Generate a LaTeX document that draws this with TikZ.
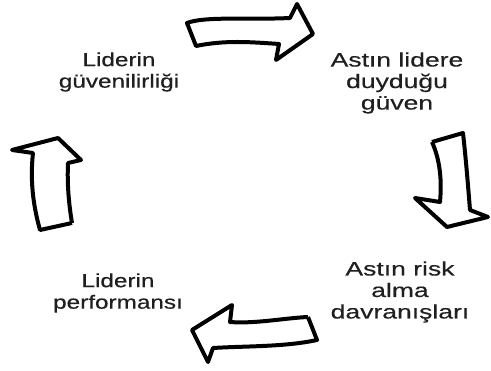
\documentclass[tikz,border=0pt]{standalone}
\usepackage{fontspec}
\setmainfont{Liberation Sans}
\newfontfamily\lblfont{Liberation Sans}[BoldFont=Liberation Sans,BoldFeatures={FakeBold=0.35}]
\begin{document}
\begin{tikzpicture}[x=1pt,y=-1pt,
  lbl/.style={align=center,text=black!88,inner sep=0pt,transform shape},
  lblL/.style={lbl,font=\lblfont\bfseries\fontsize{19}{21.5}\selectfont,xscale=1.28},
  lblR/.style={lbl,font=\lblfont\bfseries\fontsize{19.5}{21.5}\selectfont,xscale=1.36},
  blockarrow/.style={draw=black,fill=white,line width=4pt,line join=round}]
\useasboundingbox (0,0) rectangle (491,371);
% labels
\node[lblL] (trust) at (119,72) {Liderin\\güvenilirliği};
\node[lblR] (conf) at (397,83) {Astın lidere\\duyduğu\\güven};
\node[lblR] (risk) at (400,292) {Astın risk\\alma\\davranışları};
\node[lblL] (perf) at (118,293) {Liderin\\performansı};
% arrow 1: top, pointing right
\draw[blockarrow] (187,23) .. controls (205,16) and (250,20) .. (290,18)
  -- (297,4) -- (313,34) -- (276,60) -- (279,44)
  .. controls (250,42) and (225,40) .. (196,46) -- cycle;
% arrow 2: right, pointing down
\draw[blockarrow] (432,142) -- (463,133)
  .. controls (466,160) and (468,185) .. (470,210)
  -- (488,217) -- (447,227) -- (415,198) -- (440,202)
  .. controls (442,180) and (440,160) .. (432,142);
% arrow 3: bottom, pointing left
\draw[blockarrow] (308,317) -- (317,340)
  .. controls (285,347) and (245,346) .. (213,348)
  -- (208,362) -- (192,330) -- (232,305) -- (230,322)
  .. controls (255,324) and (285,318) .. (308,317);
% arrow 4: left, pointing up
\draw[blockarrow] (72,223) -- (40,230)
  .. controls (33,205) and (30,180) .. (33,153)
  -- (12,150) -- (58,138) -- (81,160) -- (68,163)
  .. controls (67,185) and (69,205) .. (72,223);
\end{tikzpicture}
\end{document}
